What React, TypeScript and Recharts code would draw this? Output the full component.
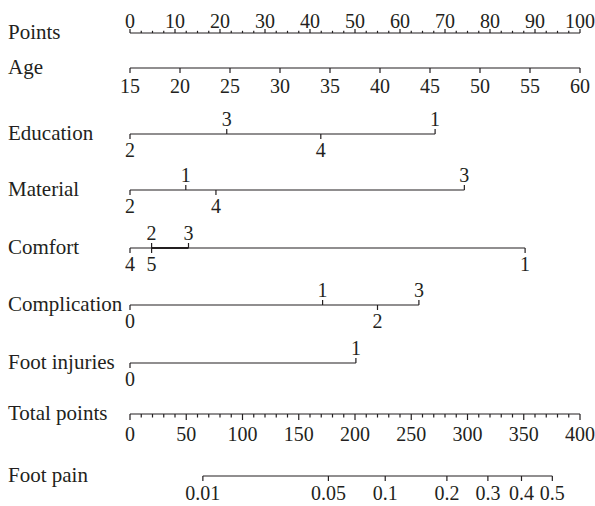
import { ScatterChart, Scatter, XAxis, YAxis } from "recharts";

const INK = "#231f20";
const FONT = "'Liberation Serif', 'Times New Roman', serif";

// row titles, top to bottom
const ROW_NAMES = ["Points", "Age", "Education", "Material", "Comfort", "Complication", "Foot injuries", "Total points", "Foot pain"];

// tick labels of the continuous scales
const POINTS_LABELS = [0, 10, 20, 30, 40, 50, 60, 70, 80, 90, 100];
const AGE_LABELS = [15, 20, 25, 30, 35, 40, 45, 50, 55, 60];
const TOTAL_LABELS = [0, 50, 100, 150, 200, 250, 300, 350, 400];
const FOOT_PAIN_LABELS = [0.01, 0.05, 0.1, 0.2, 0.3, 0.4, 0.5];

// categorical predictors: level and the points it scores
const EDUCATION_LEVELS = ["2", "3", "4", "1"];
const EDUCATION_POINTS = [0, 21.5, 42.4, 67.8];
const MATERIAL_LEVELS = ["2", "1", "4", "3"];
const MATERIAL_POINTS = [0, 12.4, 19.1, 74.3];
const COMFORT_LEVELS = ["4", "5", "2", "3", "1"];
const COMFORT_POINTS = [0, 4.8, 4.8, 13.0, 87.8];
const COMPLICATION_LEVELS = ["0", "1", "2", "3"];
const COMPLICATION_POINTS = [0, 42.8, 55.0, 64.2];
const FOOT_INJURY_LEVELS = ["0", "1"];
const FOOT_INJURY_POINTS = [0, 50.2];

// scale conversions onto the 0-100 points axis
const AGE_MIN = 15, AGE_MAX = 60;
const TOTAL_MAX = 400;
const LP_INTERCEPT = 375.4, LP_SLOPE = 67.6; // total points at logit 0, points per logit
const ageToPoints = (a: number) => ((a - AGE_MIN) / (AGE_MAX - AGE_MIN)) * 100;
const totalToPoints = (t: number) => (t / TOTAL_MAX) * 100;
const painToPoints = (p: number) => totalToPoints(LP_INTERCEPT + LP_SLOPE * Math.log(p / (1 - p)));

// layout
const W = 595, H = 506;
const ROW_Y = [33, 68, 134, 190, 248, 305, 363, 414, 476];
const EDUCATION_SIDE = ["below", "above", "below", "above"];
const MATERIAL_SIDE = ["below", "above", "below", "above"];
const COMFORT_SIDE = ["below", "below", "above", "above", "below"];
const COMPLICATION_SIDE = ["below", "above", "below", "above"];
const FOOT_INJURY_SIDE = ["below", "above"];

type Mark = { x: number; y: number; label: string; side: string; len: number; dy: number };

const steps = (from: number, to: number, step: number) => {
  const out: number[] = [];
  for (let v = from; v <= to + 1e-9; v += step) out.push(v);
  return out;
};

// points axis: minor ticks every 2.5, labels every 10
const pointsRow: Mark[] = steps(0, 100, 2.5).map((v) => {
  const major = POINTS_LABELS.includes(v);
  return { x: v, y: ROW_Y[0], label: major ? String(v) : "", side: "above", len: major ? 4 : 2.2, dy: -5 };
});

const ageRow: Mark[] = AGE_LABELS.map((a) => ({ x: ageToPoints(a), y: ROW_Y[1], label: String(a), side: "below", len: 5, dy: 25 }));

const catRow = (row: number, levels: string[], pts: number[], sides: string[]): Mark[] =>
  levels.map((l, i) => ({ x: pts[i], y: ROW_Y[row], label: l, side: sides[i], len: 5, dy: sides[i] === "above" ? -8 : 23 }));

const educationRow = catRow(2, EDUCATION_LEVELS, EDUCATION_POINTS, EDUCATION_SIDE);
const materialRow = catRow(3, MATERIAL_LEVELS, MATERIAL_POINTS, MATERIAL_SIDE);
const comfortRow = catRow(4, COMFORT_LEVELS, COMFORT_POINTS, COMFORT_SIDE);
const complicationRow = catRow(5, COMPLICATION_LEVELS, COMPLICATION_POINTS, COMPLICATION_SIDE);
const footInjuryRow = catRow(6, FOOT_INJURY_LEVELS, FOOT_INJURY_POINTS, FOOT_INJURY_SIDE);

// total points: minor ticks every 10, labels every 50
const totalRow: Mark[] = steps(0, TOTAL_MAX, 10).map((t) => {
  const major = TOTAL_LABELS.includes(t);
  return { x: totalToPoints(t), y: ROW_Y[7], label: major ? String(t) : "", side: "below", len: major ? 6 : 3.5, dy: 27 };
});

const footPainRow: Mark[] = FOOT_PAIN_LABELS.map((p) => ({ x: painToPoints(p), y: ROW_Y[8], label: String(p), side: "below", len: 5, dy: 24 }));

// the comfort row is drawn heavier between levels 2 and 3
const comfortHeavy = comfortRow.filter((m) => m.label === "2" || m.label === "3");

const ROWS = [pointsRow, ageRow, educationRow, materialRow, comfortRow, complicationRow, footInjuryRow, totalRow, footPainRow];

const TickMark = (props: any) => {
  const { cx, cy, payload } = props;
  const dir = payload.side === "above" ? -1 : 1;
  return (
    <g>
      <line x1={cx} x2={cx} y1={cy} y2={cy + dir * payload.len} stroke={INK} strokeWidth={1.2} />
      {payload.label !== "" && (
        <text x={cx} y={cy + payload.dy} textAnchor="middle" fontSize={20} fill={INK} fontFamily={FONT}>
          {payload.label}
        </text>
      )}
    </g>
  );
};

const RowName = (props: any) => {
  const { y, index } = props;
  return (
    <text x={8} y={y + 6} textAnchor="start" fontSize={21} fill={INK} fontFamily={FONT}>
      {ROW_NAMES[index]}
    </text>
  );
};

export default function App() {
  return (
    <div style={{ position: "absolute", left: 0, top: 0, background: "#fff" }}>
      <ScatterChart width={W} height={H} margin={{ top: 0, right: 15, bottom: 0, left: 0 }}>
        <XAxis type="number" dataKey="x" domain={[0, 100]} hide />
        <YAxis
          type="number"
          dataKey="y"
          domain={[0, H]}
          reversed
          width={130}
          ticks={ROW_Y}
          interval={0}
          axisLine={false}
          tickLine={false}
          tick={<RowName />}
        />
        {ROWS.map((data, i) => (
          <Scatter
            key={i}
            data={data}
            line={{ stroke: INK, strokeWidth: 1.2 }}
            shape={<TickMark />}
            isAnimationActive={false}
          />
        ))}
        <Scatter
          data={comfortHeavy}
          line={{ stroke: INK, strokeWidth: 1.9 }}
          shape={() => <g />}
          isAnimationActive={false}
        />
      </ScatterChart>
    </div>
  );
}
